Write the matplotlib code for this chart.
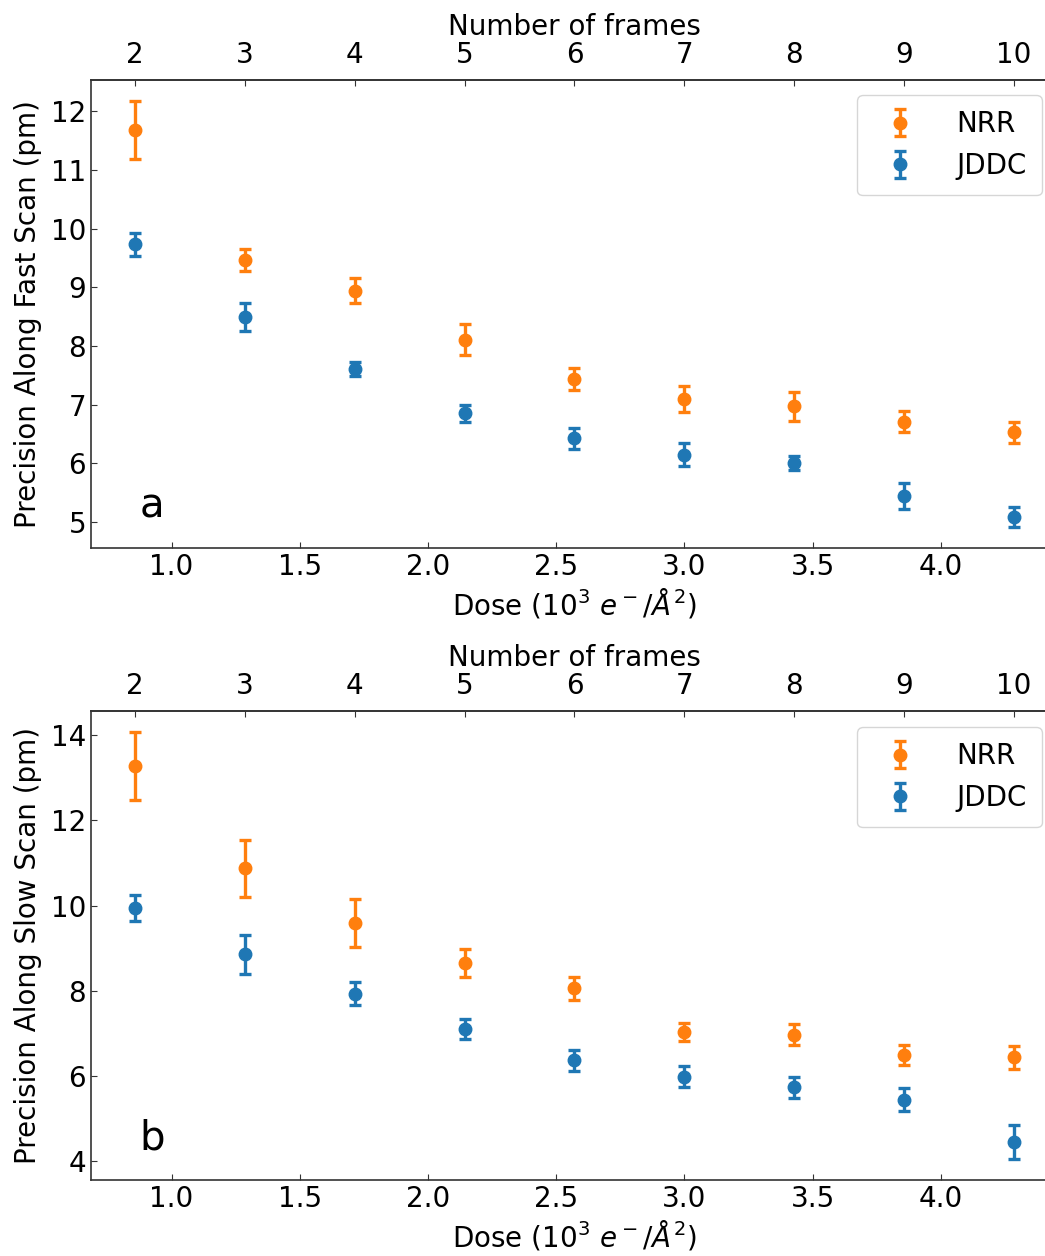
import matplotlib
matplotlib.use("Agg")
import matplotlib.pyplot as plt
import numpy as np

frames = [2, 3, 4, 5, 6, 7, 8, 9, 10]
dose_per_frame = 3.0 / 7.0  # 10^3 e-/A^2 per frame

# Panel a: precision along fast scan (pm)
nrr_fast = [11.68, 9.46, 8.94, 8.11, 7.44, 7.09, 6.97, 6.71, 6.53]
nrr_fast_err = [0.49, 0.19, 0.21, 0.26, 0.19, 0.22, 0.24, 0.18, 0.18]
jddc_fast = [9.73, 8.49, 7.61, 6.85, 6.43, 6.15, 6.00, 5.44, 5.09]
jddc_fast_err = [0.19, 0.24, 0.12, 0.15, 0.18, 0.20, 0.12, 0.22, 0.17]

# Panel b: precision along slow scan (pm)
nrr_slow = [13.28, 10.88, 9.59, 8.65, 8.06, 7.03, 6.96, 6.49, 6.43]
nrr_slow_err = [0.79, 0.67, 0.56, 0.32, 0.27, 0.21, 0.25, 0.23, 0.27]
jddc_slow = [9.94, 8.85, 7.93, 7.10, 6.36, 5.98, 5.73, 5.44, 4.44]
jddc_slow_err = [0.30, 0.45, 0.28, 0.23, 0.24, 0.25, 0.25, 0.27, 0.39]

dose = np.array(frames) * dose_per_frame

W, H = 1045, 1256
fig = plt.figure(figsize=(W / 100, H / 100), dpi=100)
FS = 20
SPINE = "#333333"

def px_axes(l, t, r, b):
    return fig.add_axes([l / W, 1 - b / H, (r - l) / W, (b - t) / H])

ax_a = px_axes(91, 80, 1058, 548)
ax_b = px_axes(91, 711, 1058, 1180)

panels = [
    (ax_a, nrr_fast, nrr_fast_err, jddc_fast, jddc_fast_err,
     "Precision Along Fast Scan (pm)", "a", 95),
    (ax_b, nrr_slow, nrr_slow_err, jddc_slow, jddc_slow_err,
     "Precision Along Slow Scan (pm)", "b", 727),
]

for ax, nv, ne, jv, je, ylabel, letter, legtop in panels:
    ax.errorbar(dose, nv, yerr=ne, fmt="o", color="#ff7f0e", ms=9,
                elinewidth=2.4, capsize=4, capthick=2.4, label="NRR")
    ax.errorbar(dose, jv, yerr=je, fmt="o", color="#1f77b4", ms=9,
                elinewidth=2.4, capsize=4, capthick=2.4, label="JDDC")
    ax.set_ylabel(ylabel, fontsize=FS, labelpad=6)
    ax.set_xlabel(r"Dose ($10^3\ e^-/\AA^2$)", fontsize=FS, labelpad=4)
    ax.set_xticks([1.0, 1.5, 2.0, 2.5, 3.0, 3.5, 4.0])
    ax.tick_params(direction="in", labelsize=FS, length=4, color=SPINE)
    for s in ax.spines.values():
        s.set_color(SPINE)
        s.set_linewidth(1.2)
    sec = ax.secondary_xaxis("top", functions=(lambda d: d / dose_per_frame,
                                               lambda f: f * dose_per_frame))
    sec.set_xticks(frames)
    sec.tick_params(direction="in", labelsize=FS, length=4, color=SPINE, pad=8)
    sec.spines["top"].set_color(SPINE)
    sec.spines["top"].set_linewidth(1.2)
    sec.set_xlabel("Number of frames", fontsize=FS, labelpad=4)
    ax.text(0.063, 0.088, letter, transform=ax.transAxes, fontsize=29,
            ha="center", va="center")
    leg = ax.legend(loc="upper right", bbox_to_anchor=(1041.7 / W, 1 - legtop / H),
                    bbox_transform=fig.transFigure, borderaxespad=0,
                    fontsize=FS, handletextpad=1.0, borderpad=0.55)

fig.savefig("out.png", dpi=100)
